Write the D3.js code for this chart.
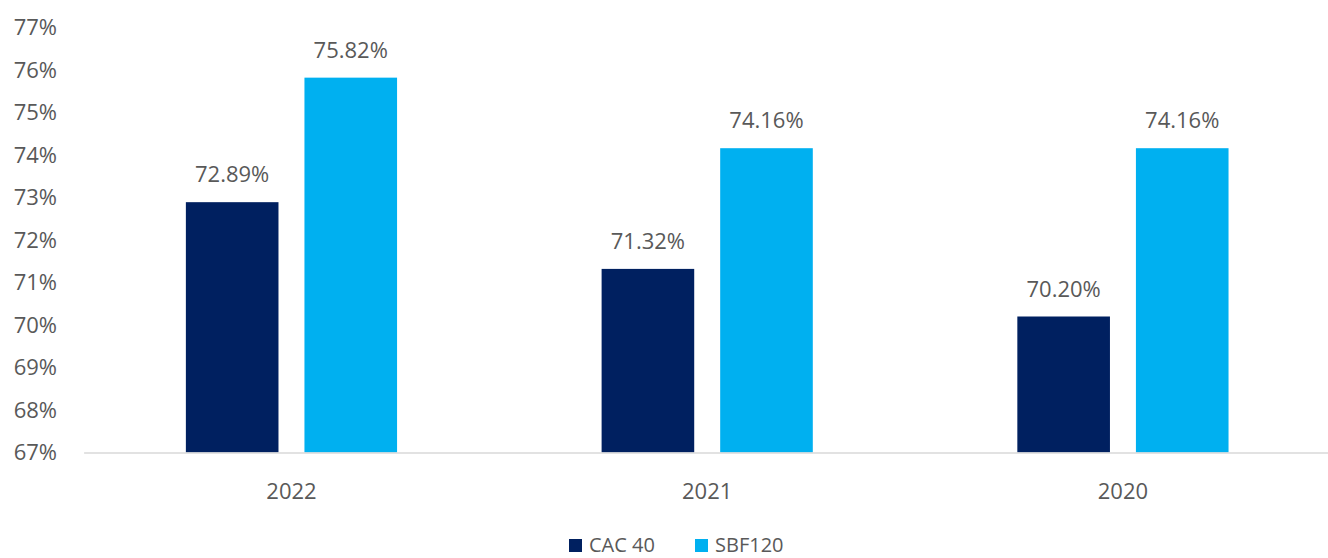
<!DOCTYPE html>
<html>
<head>
<meta charset="utf-8">
<script src="https://cdn.jsdelivr.net/npm/d3@7"></script>
<style>
  html, body { margin: 0; padding: 0; background: #fff; overflow: hidden; }
  svg text { font-family: "Open Sans", "Noto Sans", sans-serif; fill: #595959; }
</style>
</head>
<body>
<svg id="chart" width="1328" height="558"></svg>
<script>
const categories = ["2022", "2021", "2020"];
const seriesNames = ["CAC 40", "SBF120"];
const cac40 = [72.89, 71.32, 70.20];
const sbf120 = [75.82, 74.16, 74.16];
const yTicks = [67, 68, 69, 70, 71, 72, 73, 74, 75, 76, 77];
const colors = ["#002060", "#00B0F0"];

const values = [cac40, sbf120];
const svg = d3.select("#chart");
const mLeft = 83.6, mRight = 1330.8, mTop = 27.5, mBottom = 452.5;

const y = d3.scaleLinear().domain([67, 77]).range([mBottom, mTop]);
const x0 = d3.scaleBand().domain(categories).range([mLeft, mRight]).padding(0);
const bw = x0.bandwidth();
const x1 = d3.scaleBand().domain(seriesNames)
  .range([bw * 0.246, bw * 0.754]).paddingInner(0.219).paddingOuter(0);

// y axis labels
const yAxis = d3.axisLeft(y).tickValues(yTicks).tickSize(0).tickPadding(0)
  .tickFormat(d => d + "%");
const gy = svg.append("g").attr("transform", `translate(57,0)`).call(yAxis);
gy.select(".domain").remove();
gy.selectAll("text").attr("font-size", 22).style("fill", "#595959")
  .attr("font-family", '"Open Sans", sans-serif');

// bars
const groups = svg.append("g").selectAll("g").data(categories).join("g")
  .attr("transform", d => `translate(${x0(d)},0)`);
groups.selectAll("rect")
  .data((d, i) => seriesNames.map((s, j) => ({ s, v: values[j][i], j })))
  .join("rect")
  .attr("x", d => x1(d.s))
  .attr("width", x1.bandwidth())
  .attr("y", d => y(d.v))
  .attr("height", d => y(67) - y(d.v))
  .attr("fill", d => colors[d.j]);
groups.selectAll("text.lbl")
  .data((d, i) => seriesNames.map((s, j) => ({ s, v: values[j][i], j })))
  .join("text").attr("class", "lbl")
  .attr("x", d => x1(d.s) + x1.bandwidth() / 2)
  .attr("y", d => y(d.v) - 20)
  .attr("text-anchor", "middle")
  .attr("font-size", 22)
  .text(d => d.v.toFixed(2) + "%");

// x axis
const xAxis = d3.axisBottom(x0).tickSize(0).tickPadding(0);
const gx = svg.append("g").attr("transform", `translate(0,${mBottom})`).call(xAxis);
gx.select(".domain").attr("stroke", "#d9d9d9").attr("stroke-width", 1.5);
gx.selectAll("text").attr("font-size", 22).attr("dy", 0).attr("y", 46)
  .style("fill", "#595959").attr("font-family", '"Open Sans", sans-serif')
  .attr("transform", d => `translate(${(x1.range()[0] + x1.range()[1]) / 2 - bw / 2},0)`);

// legend
const legendItems = [{ name: "CAC 40", x: 569 }, { name: "SBF120", x: 695 }];
const lg = svg.append("g");
legendItems.forEach((it, i) => {
  lg.append("rect").attr("x", it.x).attr("y", 539).attr("width", 13).attr("height", 13)
    .attr("fill", colors[i]);
  lg.append("text").attr("x", it.x + 20).attr("y", 552).attr("font-size", 20)
    .text(seriesNames[i]);
});
</script>
</body>
</html>
